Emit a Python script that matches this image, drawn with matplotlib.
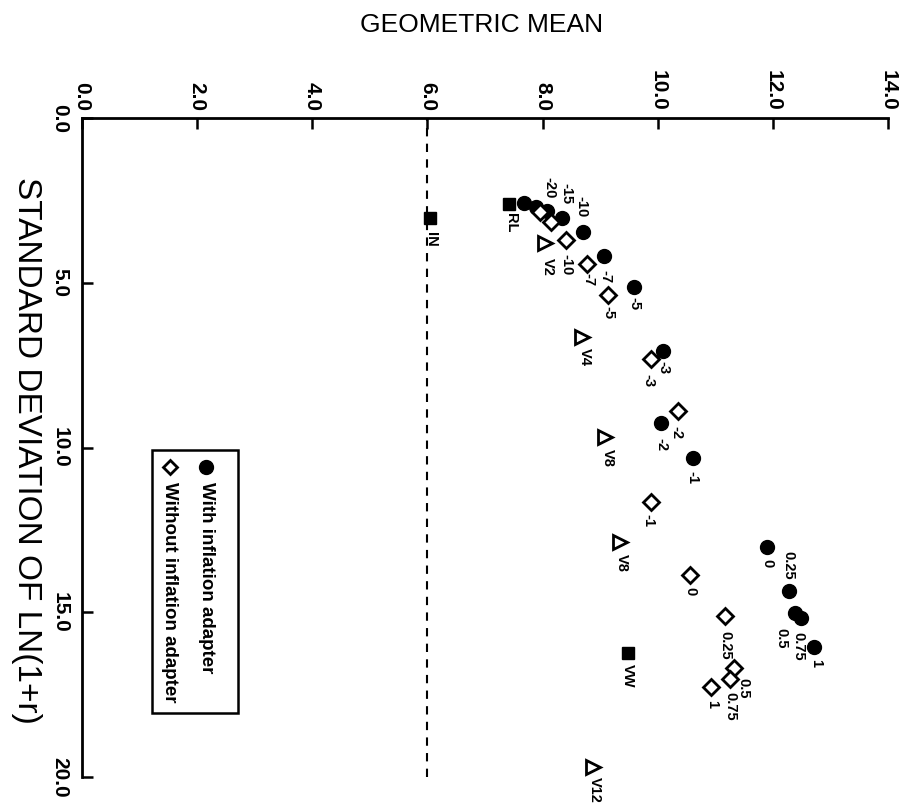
import numpy as np
import matplotlib.pyplot as plt
from matplotlib.patches import Rectangle

plt.rcParams['font.family'] = ['Liberation Sans', 'DejaVu Sans']

# with inflation adapter (filled circles)
with_gm = [7.68, 7.89, 8.08, 8.34, 8.70, 9.07, 9.59, 10.09, 10.06, 10.61, 11.90, 12.28, 12.38, 12.49, 12.71]
with_sd = [2.58, 2.70, 2.82, 3.03, 3.46, 4.19, 5.13, 7.07, 9.26, 10.32, 13.02, 14.35, 15.02, 15.17, 16.06]
with_lab = ['', '', '-20', '-15', '-10', '-7', '-5', '-3', '-2', '-1', '0', '0.25', '0.5', '0.75', '1']

# without inflation adapter (open diamonds)
wo_gm = [7.96, 8.15, 8.41, 8.77, 9.14, 9.88, 10.35, 9.88, 10.56, 11.17, 11.33, 11.26, 10.93]
wo_sd = [2.85, 3.16, 3.70, 4.43, 5.37, 7.31, 8.89, 11.65, 13.87, 15.11, 16.69, 17.03, 17.27]
wo_lab = ['', '', '-10', '-7', '-5', '-3', '-2', '-1', '0', '0.25', '0.5', '0.75', '1']

# V portfolios (open triangles)
v_gm = [8.04, 8.69, 9.08, 9.35, 8.88]
v_sd = [3.79, 6.65, 9.68, 12.87, 19.70]
v_lab = ['V2', 'V4', 'V8', 'V8', 'V12']

# single assets (filled squares)
sq_gm = [7.42, 6.04, 9.48]
sq_sd = [2.61, 3.03, 16.24]
sq_lab = ['RL', 'IN', 'VW']

# label offsets in pixels (right, down)
with_off = [(0, 0), (0, 0), (2, -23), (4, -24), (-1, -25), (1, 21), (0, 17), (0, 17), (0, 21), (0, 19),
            (0, 16), (-1, -26), (-13, 25), (-3, 28), (2, 16)]
wo_off = [(0, 0), (0, 0), (0, 25), (1, 16), (0, 18), (-2, 22), (-1, 22), (-2, 19), (0, 16), (0, 29),
          (9, 20), (0, 27), (1, 17)]
v_off = [(3, 24), (3, 20), (3, 21), (2, 21), (2, 23)]
sq_off = [(2, 19), (1, 22), (0, 23)]

fig = plt.figure(figsize=(9.16, 8.06), dpi=100)
ax = fig.add_axes([82/916, 1-777/806, 806/916, 659/806])

ax.axvline(6.0, color='black', ls=(0, (4, 3.5)), lw=1.5, zorder=1)

ax.plot(with_gm, with_sd, 'o', color='black', ms=10, zorder=3)
ax.plot(wo_gm, wo_sd, 'D', mfc='white', mec='black', mew=2, ms=8, zorder=4)
ax.plot(v_gm, v_sd, '>', mfc='white', mec='black', mew=2, ms=10, zorder=3)
ax.plot(sq_gm, sq_sd, 's', color='black', ms=9, zorder=3)


def put_labels(xs, ys, labs, offs):
    for x, y, t, (dx, dy) in zip(xs, ys, labs, offs):
        if t == '':
            continue
        ax.annotate(t, (x, y), xytext=(dx, -dy), textcoords='offset pixels',
                    rotation=-90, ha='center', va='center', fontsize=10.5,
                    fontweight='bold', zorder=5)


put_labels(with_gm, with_sd, with_lab, with_off)
put_labels(wo_gm, wo_sd, wo_lab, wo_off)
put_labels(v_gm, v_sd, v_lab, v_off)
put_labels(sq_gm, sq_sd, sq_lab, sq_off)

ax.set_xlim(0, 14)
ax.set_ylim(20, 0)
ax.xaxis.tick_top()
ax.set_xticks(np.arange(0, 14.1, 2))
ax.set_xticklabels(['%.1f' % v for v in np.arange(0, 14.1, 2)], rotation=-90,
                   fontsize=15, fontweight='bold')
ax.set_yticks(np.arange(0, 20.1, 5))
ax.set_yticklabels(['%.1f' % v for v in np.arange(0, 20.1, 5)], rotation=-90,
                   fontsize=15, fontweight='bold', va='center')
ax.tick_params(axis='x', direction='in', length=8, width=1.8, pad=5)
ax.tick_params(axis='y', direction='in', length=8, width=1.8, pad=9)
for sp in ['bottom', 'right']:
    ax.spines[sp].set_visible(False)
for sp in ['top', 'left']:
    ax.spines[sp].set_linewidth(2)

# legend box
ax.add_patch(Rectangle((0.087, 0.097), 0.107, 0.399, transform=ax.transAxes,
                       fill=False, lw=1.8, ec='black', zorder=5))
ax.plot([0.154], [0.470], 'o', color='black', ms=10, transform=ax.transAxes, clip_on=False)
ax.plot([0.109], [0.470], 'D', mfc='white', mec='black', mew=2, ms=7.5, transform=ax.transAxes, clip_on=False)
ax.text(0.154, 0.447, 'With inflation adapter', transform=ax.transAxes, rotation=-90,
        ha='center', va='top', fontsize=13.5, fontweight='bold')
ax.text(0.109, 0.447, 'Without inflation adapter', transform=ax.transAxes, rotation=-90,
        ha='center', va='top', fontsize=13.5, fontweight='bold')

fig.text(482/916, 1-25/806, 'GEOMETRIC MEAN', ha='center', va='center', fontsize=19)
fig.text(26/916, 1-450/806, 'STANDARD DEVIATION OF LN(1+r)', ha='center', va='center',
         rotation=-90, fontsize=24)

fig.savefig('out.png', dpi=100)
